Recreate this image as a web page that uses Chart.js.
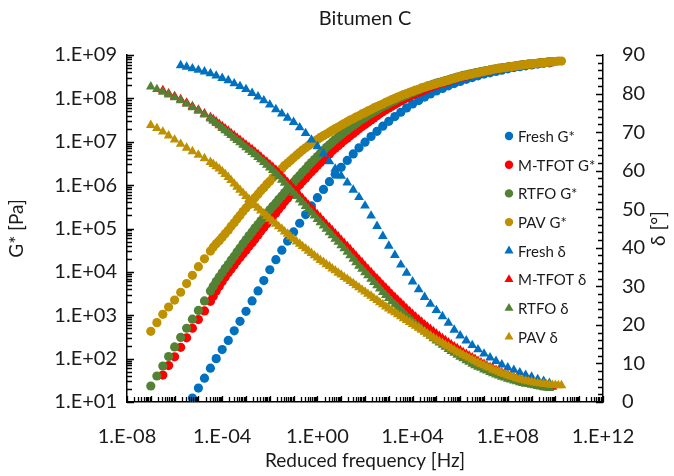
<!DOCTYPE html>
<html>
<head>
<meta charset="utf-8">
<title>Bitumen C</title>
<script src="https://cdn.jsdelivr.net/npm/chart.js@4.4.1/dist/chart.umd.min.js"></script>
<style>
  html, body { margin: 0; padding: 0; background: #ffffff; }
  #wrap { width: 674px; height: 476px; position: relative; }
</style>
</head>
<body>
<div id="wrap"><canvas id="c" width="674" height="476"></canvas></div>
<script>
// Reduced frequency [Hz], shared by every sample (null where a sample has no point)
const freq = [
  1.0e-7, 1.8e-7, 3.2e-7, 5.6e-7, 1.0e-6, 1.8e-6, 3.2e-6, 5.6e-6,
  1.0e-5, 1.8e-5, 3.2e-5, 5.6e-5, 1.0e-4, 1.8e-4, 3.2e-4, 5.6e-4,
  1.0e-3, 1.8e-3, 3.2e-3, 5.6e-3, 1.0e-2, 1.8e-2, 3.2e-2, 5.6e-2,
  0.1, 0.18, 0.32, 0.56, 1, 1.8, 3.2, 5.6,
  10, 18, 32, 56, 100, 180, 320, 560,
  1e3, 1.8e3, 3.2e3, 5.6e3, 1e4, 1.8e4, 3.2e4, 5.6e4,
  1e5, 1.8e5, 3.2e5, 5.6e5, 1e6, 1.8e6, 3.2e6, 5.6e6,
  1e7, 1.8e7, 3.2e7, 5.6e7, 1e8, 1.8e8, 3.2e8, 5.6e8,
  1e9, 1.8e9, 3.2e9, 5.6e9, 1e10, 1.8e10
];
// extra frequencies measured on the aged binders (denser overlap of the sweeps)
const freqFine = [
  4.2e-5, 7.5e-5,
  1.33e-4, 2.37e-4, 4.2e-4, 7.5e-4, 1.33e-3, 2.37e-3, 4.2e-3, 7.5e-3,
  1.33e-2, 2.37e-2, 4.2e-2, 7.5e-2, 0.133, 0.237, 0.42, 0.75,
  1.33, 2.37, 4.2, 7.5, 13.3, 23.7, 42, 75,
  133, 237, 420, 750, 1.33e3, 2.37e3, 4.2e3, 7.5e3,
  1.33e4, 2.37e4, 4.2e4, 7.5e4, 1.33e5, 2.37e5, 4.2e5, 7.5e5,
  1.33e6, 2.37e6, 4.2e6, 7.5e6, 1.33e7, 2.37e7, 4.2e7, 7.5e7,
  1.33e8, 2.37e8, 4.2e8, 7.5e8, 1.33e9, 2.37e9, 4.2e9, 7.5e9,
  1.33e10
];

// Complex modulus G* [Pa]
const freshG = [
  null, null, null, null, null,
  4.2, 7.1, 12.3, 20.9, 35.5, 60.3, 100, 162, 263, 437,
  724, 1230, 2140, 3630, 6310, 11200, 19100, 31600, 51300, 83200,
  132000, 209000, 331000, 513000, 794000, 1.20e6, 1.78e6, 2.57e6, 3.72e6, 5.25e6,
  7.24e6, 9.77e6, 1.32e7, 1.74e7, 2.29e7, 2.95e7, 3.80e7, 4.79e7, 6.03e7, 7.41e7,
  8.91e7, 1.07e8, 1.26e8, 1.48e8, 1.70e8, 1.95e8, 2.19e8, 2.45e8, 2.75e8, 3.02e8,
  3.31e8, 3.63e8, 3.89e8, 4.17e8, 4.47e8, 4.79e8, 5.13e8, 5.37e8, 5.62e8, 5.89e8,
  6.17e8, 6.46e8, 6.61e8,
  null, null
];
const mtfotG = [
  null, null,
  41.7, 69.2, 110, 182, 302, 501, 794, 1260, 2090, 3630,
  6030, 9550, 14500, 21400, 31600, 46800, 70800, 105000, 155000, 229000,
  339000, 501000, 724000, 1.02e6, 1.45e6, 2.04e6, 2.82e6, 3.89e6, 5.25e6, 7.08e6,
  9.33e6, 1.20e7, 1.55e7, 2.00e7, 2.51e7, 3.16e7, 3.98e7, 4.90e7, 6.03e7, 7.24e7,
  8.71e7, 1.02e8, 1.20e8, 1.38e8, 1.58e8, 1.82e8, 2.04e8, 2.29e8, 2.51e8, 2.82e8,
  3.09e8, 3.31e8, 3.63e8, 3.89e8, 4.17e8, 4.47e8, 4.68e8, 5.01e8, 5.25e8, 5.50e8,
  5.75e8, 6.03e8, 6.17e8, 6.46e8, 6.61e8, 6.92e8,
  null, null
];
const mtfotGFine = [
  2750, 4680, 7590, 11700, 17800, 26300, 38900, 57500, 87100, 129000,
  191000, 282000, 417000, 603000, 871000, 1.23e6, 1.74e6, 2.40e6, 3.31e6, 4.57e6,
  6.17e6, 8.13e6, 1.07e7, 1.38e7, 1.78e7, 2.24e7, 2.82e7, 3.55e7, 4.47e7, 5.50e7,
  6.61e7, 7.94e7, 9.55e7, 1.12e8, 1.29e8, 1.48e8, 1.70e8, 1.95e8, 2.19e8, 2.40e8,
  2.69e8, 2.95e8, 3.24e8, 3.47e8, 3.80e8, 4.07e8, 4.37e8, 4.57e8, 4.90e8, 5.13e8,
  5.37e8, 5.62e8, 5.89e8, 6.17e8, 6.31e8, 6.61e8, 6.76e8, 6.92e8,
  null
];
const rtfoG = [
  23.4, 39.8, 67.6, 112, 186, 309, 501, 813, 1290, 2140,
  3630, 6030, 9550, 14800, 22900, 35500, 55000, 83200, 123000, 182000,
  269000, 389000, 562000, 813000, 1.17e6, 1.66e6, 2.34e6, 3.31e6, 4.57e6, 6.31e6,
  8.51e6, 1.12e7, 1.45e7, 1.86e7, 2.34e7, 2.95e7, 3.63e7, 4.47e7, 5.37e7, 6.46e7,
  7.59e7, 8.91e7, 1.05e8, 1.20e8, 1.38e8, 1.58e8, 1.78e8, 2.00e8, 2.24e8, 2.45e8,
  2.69e8, 2.95e8, 3.24e8, 3.47e8, 3.72e8, 3.98e8, 4.27e8, 4.47e8, 4.79e8, 5.01e8,
  5.25e8, 5.50e8, 5.75e8, 6.03e8, 6.17e8, 6.46e8, 6.61e8, 6.92e8,
  null, null
];
const rtfoGFine = [
  4680, 7590, 12000, 18600, 28800, 44700, 67600, 102000, 151000, 224000,
  324000, 468000, 676000, 977000, 1.41e6, 2.00e6, 2.82e6, 3.89e6, 5.37e6, 7.41e6,
  9.77e6, 1.29e7, 1.66e7, 2.09e7, 2.63e7, 3.31e7, 4.07e7, 4.90e7, 5.89e7, 7.08e7,
  8.32e7, 9.77e7, 1.12e8, 1.29e8, 1.48e8, 1.70e8, 1.91e8, 2.14e8, 2.34e8, 2.57e8,
  2.82e8, 3.09e8, 3.39e8, 3.63e8, 3.89e8, 4.17e8, 4.37e8, 4.68e8, 4.90e8, 5.13e8,
  5.37e8, 5.62e8, 5.89e8, 6.17e8, 6.31e8, 6.61e8, 6.76e8,
  null, null
];
const pavG = [
  427, 676, 1050, 1550, 2240, 3390, 5370, 8320, 13200, 20000,
  30200, 44700, 63100, 91200, 135000, 200000, 295000, 427000, 617000, 871000,
  1.23e6, 1.74e6, 2.40e6, 3.24e6, 4.27e6, 5.62e6, 7.24e6, 9.12e6, 1.12e7, 1.38e7,
  1.66e7, 2.00e7, 2.40e7, 2.88e7, 3.39e7, 3.98e7, 4.68e7, 5.50e7, 6.46e7, 7.41e7,
  8.71e7, 1.00e8, 1.15e8, 1.29e8, 1.45e8, 1.62e8, 1.82e8, 2.00e8, 2.19e8, 2.40e8,
  2.63e8, 2.88e8, 3.16e8, 3.39e8, 3.63e8, 3.89e8, 4.17e8, 4.47e8, 4.79e8, 5.01e8,
  5.25e8, 5.50e8, 5.75e8, 6.03e8, 6.17e8, 6.46e8, 6.61e8, 6.92e8, 7.08e8, 7.24e8
];
const pavGFine = [
  37200, 52500, 75900, 112000, 166000, 245000, 355000, 513000, 741000, 1.05e6,
  1.48e6, 2.04e6, 2.82e6, 3.72e6, 4.90e6, 6.46e6, 8.13e6, 1.02e7, 1.26e7, 1.51e7,
  1.82e7, 2.19e7, 2.63e7, 3.16e7, 3.72e7, 4.37e7, 5.13e7, 6.03e7, 6.92e7, 8.13e7,
  9.33e7, 1.07e8, 1.23e8, 1.38e8, 1.55e8, 1.74e8, 1.91e8, 2.09e8, 2.29e8, 2.51e8,
  2.75e8, 3.02e8, 3.31e8, 3.55e8, 3.80e8, 4.07e8, 4.37e8, 4.68e8, 4.90e8, 5.13e8,
  5.37e8, 5.62e8, 5.89e8, 6.17e8, 6.31e8, 6.61e8, 6.76e8, 7.08e8, 7.24e8
];

// Phase angle δ [°]
const freshD = [
  null, null, null, null, null,
  87.3, 86.9, 86.5, 86.1, 85.7, 85.2, 84.6, 84.0, 83.4, 82.6,
  81.9, 81.1, 80.1, 79.2, 78.2, 77.1, 75.9, 74.8, 73.7, 72.6,
  71.2, 69.7, 68.0, 66.3, 64.4, 62.4, 60.5, 58.6, 56.9, 55.0,
  53.1, 50.9, 48.3, 45.6, 43.0, 40.5, 38.1, 35.6, 33.5, 31.2,
  29.2, 27.2, 25.4, 23.8, 22.2, 20.5, 18.7, 17.2, 15.9, 14.7,
  13.6, 12.5, 11.5, 10.6, 9.7, 8.9, 8.3, 7.6, 7.0, 6.5,
  5.9, 5.4, 4.9,
  null, null
];
const mtfotD = [
  null, null,
  80.8, 80.0, 79.3, 78.5, 77.6, 76.7, 75.8, 74.8, 73.8, 72.7,
  71.5, 70.3, 69.1, 67.9, 66.7, 65.5, 64.2, 62.9, 61.6, 60.2,
  58.6, 57.0, 55.3, 53.6, 51.9, 50.2, 48.6, 46.9, 45.3, 43.7,
  42.0, 40.4, 38.7, 37.0, 35.3, 33.6, 32.0, 30.4, 28.8, 27.2,
  25.7, 24.2, 22.8, 21.4, 20.1, 18.9, 17.7, 16.5, 15.4, 14.4,
  13.4, 12.4, 11.5, 10.6, 9.8, 9.0, 8.3, 7.6, 7.0, 6.4,
  5.9, 5.4, 5.0, 4.6, 4.3, 4.0,
  null, null
];
const mtfotDFine = [
  73.3, 72.1, 70.9, 69.7, 68.5, 67.3, 66.1, 64.9, 63.6, 62.3,
  60.9, 59.4, 57.8, 56.2, 54.5, 52.8, 51.1, 49.4, 47.8, 46.1,
  44.5, 42.9, 41.2, 39.6, 37.9, 36.2, 34.5, 32.8, 31.2, 29.6,
  28.0, 26.5, 25.0, 23.5, 22.1, 20.8, 19.5, 18.3, 17.1, 16.0,
  14.9, 13.9, 12.9, 12.0, 11.1, 10.2, 9.4, 8.7, 8.0, 7.3,
  6.7, 6.2, 5.7, 5.2, 4.8, 4.5, 4.2, 3.9,
  null
];
const rtfoD = [
  81.8, 81.1, 80.4, 79.7, 79.0, 78.2, 77.3, 76.4, 75.5, 74.5,
  73.5, 72.3, 71.0, 69.8, 68.5, 67.3, 66.0, 64.8, 63.5, 62.2,
  60.8, 59.3, 57.6, 55.9, 54.2, 52.5, 50.8, 49.1, 47.4, 45.7,
  44.0, 42.3, 40.6, 38.9, 37.1, 35.3, 33.6, 31.9, 30.2, 28.5,
  26.9, 25.3, 23.8, 22.3, 20.9, 19.6, 18.3, 17.1, 15.9, 14.8,
  13.7, 12.7, 11.7, 10.8, 9.9, 9.1, 8.4, 7.7, 7.1, 6.5,
  6.0, 5.5, 5.1, 4.7, 4.4, 4.1, 3.8, 3.6,
  null, null
];
const rtfoDFine = [
  72.9, 71.7, 70.4, 69.2, 67.9, 66.7, 65.4, 64.2, 62.9, 61.5,
  60.1, 58.5, 56.8, 55.1, 53.4, 51.7, 50.0, 48.3, 46.6, 44.9,
  43.2, 41.5, 39.8, 38.0, 36.2, 34.5, 32.8, 31.1, 29.4, 27.7,
  26.1, 24.6, 23.1, 21.6, 20.3, 19.0, 17.7, 16.5, 15.4, 14.3,
  13.2, 12.2, 11.3, 10.4, 9.5, 8.8, 8.1, 7.4, 6.8, 6.3,
  5.8, 5.3, 4.9, 4.6, 4.3, 4.0, 3.7,
  null, null
];
const pavD = [
  71.8, 71.0, 70.1, 69.1, 68.0, 66.9, 65.9, 65.0, 64.1, 63.2,
  62.2, 61.1, 59.8, 58.3, 56.6, 55.0, 53.4, 51.8, 50.3, 48.9,
  47.5, 46.2, 44.9, 43.6, 42.3, 41.0, 39.8, 38.6, 37.4, 36.3,
  35.2, 34.1, 33.0, 31.9, 30.8, 29.7, 28.6, 27.5, 26.4, 25.3,
  24.2, 23.2, 22.2, 21.2, 20.2, 19.2, 18.2, 17.2, 16.2, 15.3,
  14.4, 13.5, 12.6, 11.8, 11.0, 10.2, 9.5, 8.8, 8.1, 7.5,
  6.9, 6.4, 5.9, 5.5, 5.2, 4.9, 4.7, 4.5, 4.4, 4.3
];
const pavDFine = [
  61.7, 60.5, 59.1, 57.5, 55.8, 54.2, 52.6, 51.0, 49.6, 48.2,
  46.8, 45.5, 44.2, 42.9, 41.6, 40.4, 39.2, 38.0, 36.8, 35.7,
  34.6, 33.5, 32.4, 31.3, 30.2, 29.1, 28.0, 26.9, 25.8, 24.7,
  23.7, 22.7, 21.7, 20.7, 19.7, 18.7, 17.7, 16.7, 15.7, 14.8,
  13.9, 13.0, 12.2, 11.4, 10.6, 9.8, 9.1, 8.4, 7.8, 7.2,
  6.6, 6.1, 5.7, 5.3, 5.0, 4.8, 4.6, 4.4, 4.3
];

const samples = ['Fresh', 'M-TFOT', 'RTFO', 'PAV'];
const sampleColors = ['#0070C0', '#FF0000', '#548235', '#BF9000'];
const modulusSeries = [[freshG, null], [mtfotG, mtfotGFine], [rtfoG, rtfoGFine], [pavG, pavGFine]];
const phaseSeries = [[freshD, null], [mtfotD, mtfotDFine], [rtfoD, rtfoDFine], [pavD, pavDFine]];

const xTicks = [1e-8, 1e-4, 1e0, 1e4, 1e8, 1e12];
const gTicks = [1e1, 1e2, 1e3, 1e4, 1e5, 1e6, 1e7, 1e8, 1e9];
const deltaTicks = [0, 10, 20, 30, 40, 50, 60, 70, 80, 90];

const chartTitle = 'Bitumen C';
const xTitle = 'Reduced frequency [Hz]';
const gTitle = 'G* [Pa]';
const deltaTitle = 'δ [°]';

const FONT = "Lato, 'Noto Sans', 'DejaVu Sans', sans-serif";
const TEXT = '#1a1a1a';

function pairUp([coarse, fine]) {
  const pts = [];
  coarse.forEach((v, i) => { if (v !== null) pts.push({ x: freq[i], y: v }); });
  if (fine) fine.forEach((v, i) => { if (v !== null) pts.push({ x: freqFine[i], y: v }); });
  return pts.sort((a, b) => a.x - b.x);
}

function expLabel(v) {
  const e = Math.round(Math.log10(v));
  return '1.E' + (e < 0 ? '-' : '+') + String(Math.abs(e)).padStart(2, '0');
}

const datasets = [];
samples.forEach((s, i) => {
  datasets.push({
    label: s + ' G*', data: pairUp(modulusSeries[i]), yAxisID: 'yG',
    pointStyle: 'circle', pointRadius: 4.6, pointHoverRadius: 4.6,
    backgroundColor: sampleColors[i], borderWidth: 0, showLine: false
  });
});
samples.forEach((s, i) => {
  datasets.push({
    label: s + ' δ', data: pairUp(phaseSeries[i]), yAxisID: 'yD',
    pointStyle: 'triangle', pointRadius: 5.6, pointHoverRadius: 5.6,
    backgroundColor: sampleColors[i], borderWidth: 0, showLine: false
  });
});
// later series sit on top
datasets.forEach((d, i) => { d.order = datasets.length - 1 - i; });

// inward minor/major tick marks, legend and titles
const decorations = {
  id: 'decorations',
  afterDatasetsDraw(chart) {
    const { ctx, chartArea: a, scales } = chart;
    const x = scales.x, yG = scales.yG, yD = scales.yD;
    ctx.save();
    ctx.strokeStyle = '#000';
    ctx.lineWidth = 1.3;
    ctx.beginPath();
    for (let e = -8; e <= 12; e++) {
      for (let k = 1; k <= 9; k++) {
        const v = k * Math.pow(10, e);
        if (v > 1e12 * 1.0001) break;
        const px = Math.round(x.getPixelForValue(v)) + 0.5;
        const len = k === 1 ? 6 : 5;
        ctx.moveTo(px, a.bottom); ctx.lineTo(px, a.bottom - len);
      }
    }
    for (let e = 1; e <= 9; e++) {
      for (let k = 1; k <= 9; k++) {
        const v = k * Math.pow(10, e);
        if (v > 1e9 * 1.0001) break;
        const py = Math.round(yG.getPixelForValue(v)) + 0.5;
        const len = k === 1 ? 7 : 5;
        ctx.moveTo(a.left, py); ctx.lineTo(a.left + len, py);
      }
    }
    for (let v = 0; v <= 90; v += 2) {
      const py = Math.round(yD.getPixelForValue(v)) + 0.5;
      const len = v % 10 === 0 ? 7 : 5;
      ctx.moveTo(a.right, py); ctx.lineTo(a.right - len, py);
    }
    ctx.stroke();

    // legend
    ctx.font = '15px ' + FONT;
    ctx.textAlign = 'left';
    ctx.textBaseline = 'middle';
    chart.data.datasets.forEach((d, i) => {
      const cy = 136 + i * 28.7;
      const cx = 509;
      ctx.fillStyle = d.backgroundColor;
      ctx.beginPath();
      if (d.pointStyle === 'circle') {
        ctx.arc(cx, cy, 4.2, 0, Math.PI * 2);
      } else {
        const r = 5.2;
        ctx.moveTo(cx, cy - r);
        ctx.lineTo(cx + r * Math.sin(Math.PI * 2 / 3), cy + r / 2);
        ctx.lineTo(cx - r * Math.sin(Math.PI * 2 / 3), cy + r / 2);
        ctx.closePath();
      }
      ctx.fill();
      ctx.fillStyle = TEXT;
      ctx.fillText(d.label, 518, cy + 1);
    });

    // titles
    const midX = (a.left + a.right) / 2;
    const midY = (a.top + a.bottom) / 2;
    ctx.fillStyle = TEXT;
    ctx.textAlign = 'center';
    ctx.font = '20px ' + FONT;
    ctx.fillText(chartTitle, midX, 19);
    ctx.font = '19px ' + FONT;
    ctx.fillText(xTitle, midX, 461);
    ctx.save();
    ctx.translate(17, midY);
    ctx.rotate(-Math.PI / 2);
    ctx.fillText(gTitle, 0, 0);
    ctx.restore();
    ctx.save();
    ctx.translate(659, midY);
    ctx.rotate(-Math.PI / 2);
    ctx.fillText(deltaTitle, 0, 0);
    ctx.restore();
    ctx.restore();
  }
};

const tickFont = { family: FONT, size: 20 };

function build() {
  new Chart(document.getElementById('c'), {
    type: 'scatter',
    data: { datasets },
    options: {
      responsive: false,
      animation: false,
      devicePixelRatio: 1,
      layout: { padding: { top: 55, left: 0, right: 0, bottom: 0 } },
      plugins: { legend: { display: false }, tooltip: { enabled: false }, title: { display: false } },
      scales: {
        x: {
          type: 'logarithmic', position: 'bottom', min: 1e-8, max: 1e12,
          grid: { display: false, drawTicks: false },
          border: { display: true, color: '#000', width: 1.5 },
          ticks: { autoSkip: false, maxRotation: 0, color: TEXT, font: tickFont, padding: 23, callback: v => expLabel(v) },
          afterBuildTicks: s => { s.ticks = xTicks.map(v => ({ value: v })); },
          afterFit: s => { s.height = 74; }
        },
        yG: {
          type: 'logarithmic', position: 'left', min: 10, max: 1e9,
          grid: { display: false, drawTicks: false },
          border: { display: true, color: '#000', width: 1.5 },
          ticks: { autoSkip: false, color: TEXT, font: tickFont, padding: 10, callback: v => expLabel(v) },
          afterBuildTicks: s => { s.ticks = gTicks.map(v => ({ value: v })); },
          afterFit: s => { s.width = 127; }
        },
        yD: {
          type: 'linear', position: 'right', min: 0, max: 90,
          grid: { display: false, drawTicks: false },
          border: { display: true, color: '#000', width: 1.5 },
          ticks: { autoSkip: false, color: TEXT, font: tickFont, padding: 19, callback: v => String(v) },
          afterBuildTicks: s => { s.ticks = deltaTicks.map(v => ({ value: v })); },
          afterFit: s => { s.width = 71; }
        }
      }
    },
    plugins: [decorations]
  });
}

if (document.fonts && document.fonts.load) {
  Promise.all([document.fonts.load('20px Lato'), document.fonts.load('15px Lato')]).then(build, build);
} else {
  build();
}
</script>
</body>
</html>
